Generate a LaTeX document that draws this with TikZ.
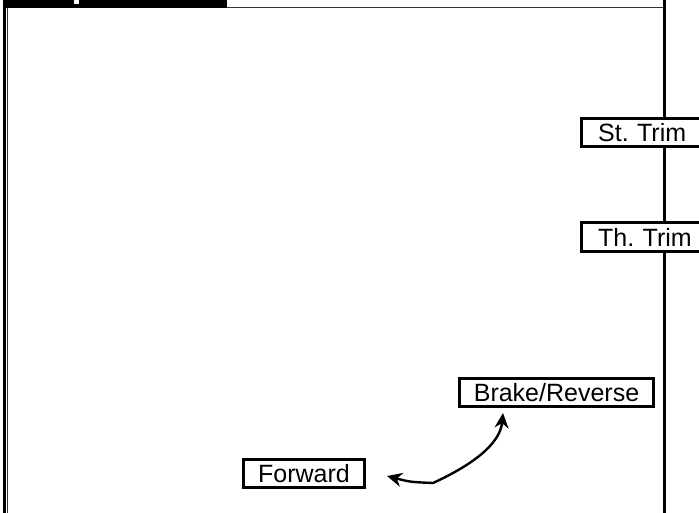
\documentclass[tikz,border=0pt]{standalone}
\usepackage{fontspec}
\setmainfont{Liberation Sans}
\usetikzlibrary{arrows.meta}
\frenchspacing

\begin{document}
\begin{tikzpicture}[x=1pt,y=-1pt,
                box node/.style={rectangle,draw=black,fill=white,line width=2.8pt,
                  inner sep=0pt,minimum height=28.5pt,font=\fontsize{25}{28}\selectfont},
                trim node/.style={box node,anchor=west,inner xsep=16.5pt,text width=120pt,align=left},
                frame/.style={line width=#1,draw=black}]

            \clip (0,0) rectangle (699,513);

            % frame of the panel
            \fill[black] (2.7,0) rectangle (227,8);
            \fill[white] (74,0) rectangle (78.5,4.3);
            \draw[frame=3pt] (4.2,0) -- (4.2,513);
            \draw[frame=1.2pt,draw=black!80] (7.3,8) -- (7.3,513);
            \draw[frame=1.2pt,draw=black!80] (227,7.7) -- (664.7,7.7);
            \draw[frame=2.8pt] (664.7,0) -- (664.7,513);

            \node[trim node] (S) at (580.3,132.5) {St. Trim};
            \node[trim node] (T) at (580.3,237) {Th. Trim};
            \node[box node,minimum width=194.5pt] (B) at (556.5,392.5) {Brake/Reverse};
            \node[box node,minimum width=121.5pt] (F) at (304,473.5) {Forward};

            \coordinate (Ftip) at (387,476);
            \coordinate (Btip) at (503,413);
            \coordinate (K) at (433,483);

            \draw[{Stealth[length=15pt,width=14pt]}-{Stealth[length=15pt,width=14pt]},line width=2.4pt]
            (Ftip) .. controls (410,482) .. (K)
                   .. controls (470,466) and (500,445) .. (Btip);

        \end{tikzpicture}
\end{document}
